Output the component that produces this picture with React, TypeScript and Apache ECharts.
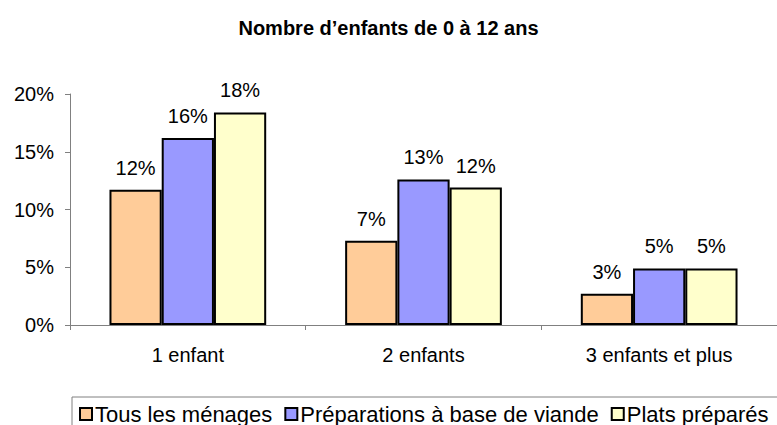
import React, { useEffect, useRef } from "react";
import * as echarts from "echarts";

const categories = ["1 enfant", "2 enfants", "3 enfants et plus"];
const seriesNames = ["Tous les ménages", "Préparations à base de viande", "Plats préparés"];
const tousMenages = [11.7, 7.3, 2.7];
const preparationsViande = [16.2, 12.6, 4.9];
const platsPrepares = [18.4, 11.9, 4.9];
const seriesColors = ["#FFCC99", "#9999FF", "#FFFFCC"];
const titleText = "Nombre d’enfants de 0 à 12 ans";

const FONT = "'Liberation Sans', Arial, Helvetica, sans-serif";

export default function App() {
  const ref = useRef<HTMLDivElement>(null);
  useEffect(() => {
    if (!ref.current) return;
    const chart = echarts.init(ref.current, undefined, { renderer: "svg" });
    const data = [tousMenages, preparationsViande, platsPrepares];
    chart.setOption({
      animation: false,
      backgroundColor: "#ffffff",
      textStyle: { fontFamily: FONT, color: "#000" },
      title: {
        text: titleText,
        left: "center",
        top: 13,
        textStyle: { fontFamily: FONT, fontSize: 20, fontWeight: "bold", color: "#000" },
      },
      legend: {
        left: 72,
        top: 397,
        width: 760,
        orient: "horizontal",
        icon: "rect",
        itemWidth: 12,
        itemHeight: 12,
        itemGap: 12,
        padding: [6, 20, 20, 7],
        borderColor: "#808080",
        borderWidth: 1,
        textStyle: { fontFamily: FONT, fontSize: 22, color: "#000", padding: [0, 0, 0, -2] },
        itemStyle: { borderColor: "#000", borderWidth: 2 },
        data: seriesNames,
      },
      grid: { left: 70, top: 94, width: 717, bottom: 100, containLabel: false },
      xAxis: {
        type: "category",
        data: categories,
        axisLine: { show: true, lineStyle: { color: "#808080", width: 1 } },
        axisTick: { show: true, length: 5, lineStyle: { color: "#808080" } },
        axisLabel: { fontFamily: FONT, fontSize: 20, color: "#000", margin: 20 },
      },
      yAxis: {
        type: "value",
        min: 0,
        max: 20,
        interval: 5,
        axisLine: { show: true, lineStyle: { color: "#808080", width: 1 } },
        axisTick: { show: true, length: 5, lineStyle: { color: "#808080" } },
        splitLine: { show: false },
        axisLabel: { fontFamily: FONT, fontSize: 20, color: "#000", margin: 16, formatter: "{value}%" },
      },
      series: seriesNames.map((name, i) => ({
        name,
        type: "bar",
        data: data[i],
        barGap: "0%",
        barCategoryGap: "33.5%",
        itemStyle: { color: seriesColors[i], borderColor: "#000", borderWidth: 2 },
        label: {
          show: true,
          position: "top",
          distance: 12,
          fontFamily: FONT,
          fontSize: 20,
          color: "#000",
          formatter: (p: any) => Math.round(p.value) + "%",
        },
      })),
    });
    return () => chart.dispose();
  }, []);
  return (
    <div
      ref={ref}
      style={{ position: "fixed", left: 0, top: 0, width: 777, height: 425, overflow: "hidden" }}
    />
  );
}
